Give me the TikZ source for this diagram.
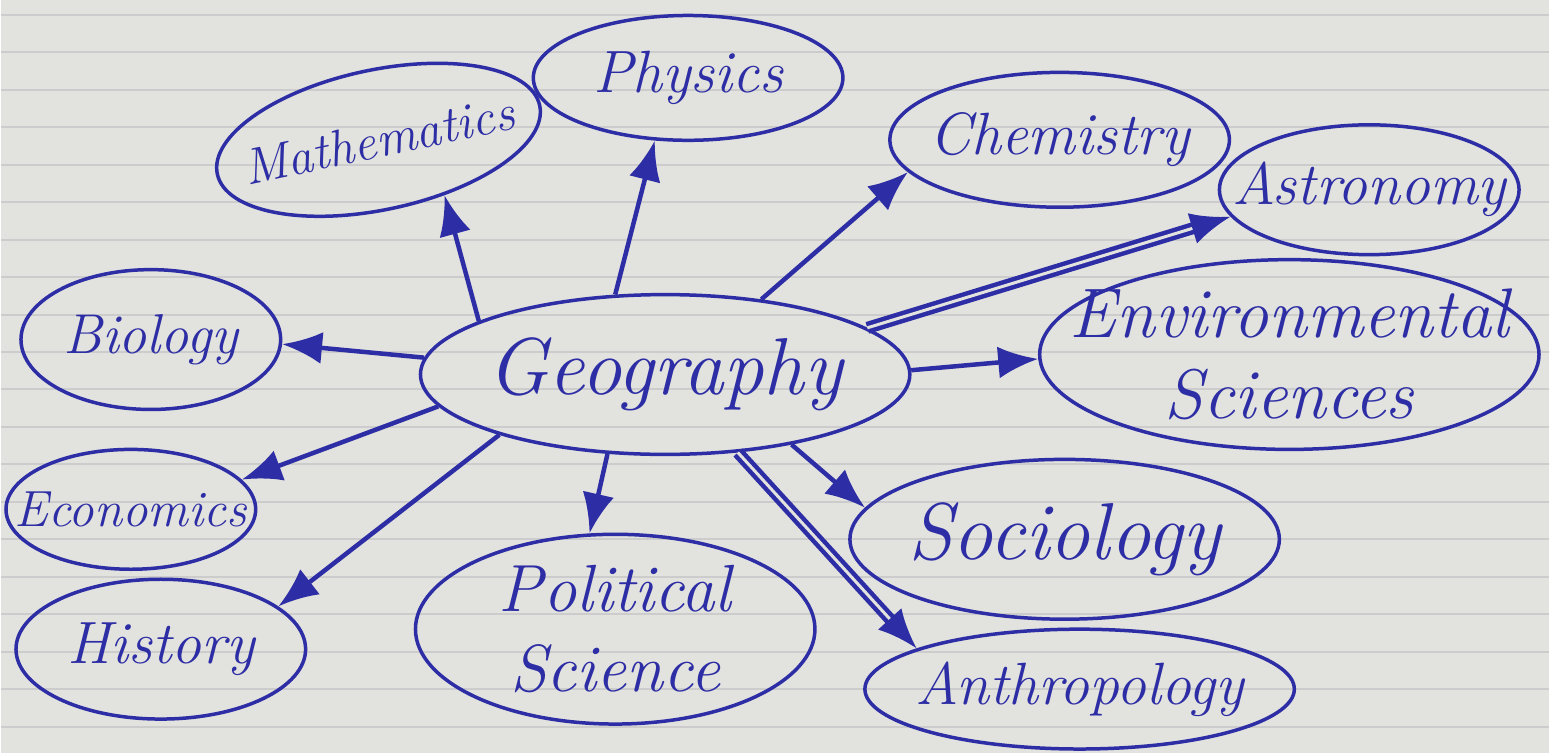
\documentclass[tikz,border=0pt]{standalone}
\usepackage{tikz}
\usetikzlibrary{shapes.geometric,arrows.meta}
\definecolor{ink}{RGB}{45,45,165}
\definecolor{paper}{RGB}{226,226,222}
\definecolor{rule}{RGB}{204,204,204}

\begin{document}
\begin{tikzpicture}[x=0.1mm, y=-0.1mm,
	topic/.style={draw=ink, line width=0.35mm, ellipse, inner sep=0pt},
	txt/.style={text=ink, inner sep=0pt, align=center,
		font=\fontsize{17}{20}\selectfont\itshape},
	arr/.style={draw=ink, line width=0.45mm, -{Latex[length=4mm, width=3.2mm]}}]
			%%%%% PAPER %%%%%
			\fill[paper] (0, 0) rectangle (1550, 754);
			\foreach \y in {15, 52.5, ..., 754}
				\draw[rule, line width=0.2mm] (0, \y) -- (1550, \y);
			\useasboundingbox (0, 0) rectangle (1550, 754);
			
			%%%%% TOPICS %%%%%
			\node[topic, minimum width=49mm, minimum height=16mm,
				label={[txt, font=\fontsize{23}{28}\selectfont\itshape]center:Geography}] (geo) at (665, 375) {};
			
			\node[topic, minimum width=33mm, minimum height=14mm, rotate=12,
				label={[txt, rotate=12, font=\fontsize{14.5}{18}\selectfont\itshape]center:Mathematics}] (math) at (378, 140) {};
			\node[topic, minimum width=31mm, minimum height=12.5mm,
				label={[txt]center:Physics}] (phys) at (688, 78) {};
			\node[topic, minimum width=34mm, minimum height=13.5mm,
				label={[txt]center:Chemistry}] (chem) at (1060, 140) {};
			\node[topic, minimum width=30mm, minimum height=13mm,
				label={[txt]center:Astronomy}] (astro) at (1370, 190) {};
			\node[topic, minimum width=50mm, minimum height=19mm,
				label={[txt, font=\fontsize{20}{23}\selectfont\itshape]center:Environmental\\Sciences}] (env) at (1290, 355) {};
			
			\node[topic, minimum width=26mm, minimum height=14mm,
				label={[txt, font=\fontsize{16}{20}\selectfont\itshape]center:Biology}] (bio) at (150, 340) {};
			\node[topic, minimum width=25mm, minimum height=12mm,
				label={[txt, font=\fontsize{14.5}{18}\selectfont\itshape]center:Economics}] (eco) at (130, 510) {};
			\node[topic, minimum width=29mm, minimum height=14mm,
				label={[txt]center:History}] (hist) at (160, 650) {};
			\node[topic, minimum width=40mm, minimum height=19mm,
				label={[txt, font=\fontsize{19}{23}\selectfont\itshape]center:Political\\Science}] (pol) at (615, 630) {};
			\node[topic, minimum width=43mm, minimum height=16mm,
				label={[txt, font=\fontsize{23}{28}\selectfont\itshape]center:Sociology}] (soc) at (1065, 540) {};
			\node[topic, minimum width=43mm, minimum height=12mm,
				label={[txt]center:Anthropology}] (anth) at (1080, 690) {};
			
			%%%%% ARROWS %%%%%
			\draw[arr] (geo.164) -- (math.308);
			\draw[arr] (geo.122) -- (phys.242);
			\draw[arr] (geo.38) -- (chem.192);
			\draw[arr, double=paper, double distance=0.3mm] (geo.13) -- (astro.191);
			\draw[arr] (geo.1) -- (env.181);
			
			\draw[arr] (geo.176) -- (bio.358);
			\draw[arr] (geo.188) -- (eco.15);
			\draw[arr] (geo.200) -- (hist.20);
			\draw[arr] (geo.234) -- (pol.105);
			\draw[arr] (geo.331) -- (soc.171);
			\draw[arr, double=paper, double distance=0.3mm] (geo.313) -- (anth.166);
			
			%%%%% END %%%%%
		\end{tikzpicture}
\end{document}
